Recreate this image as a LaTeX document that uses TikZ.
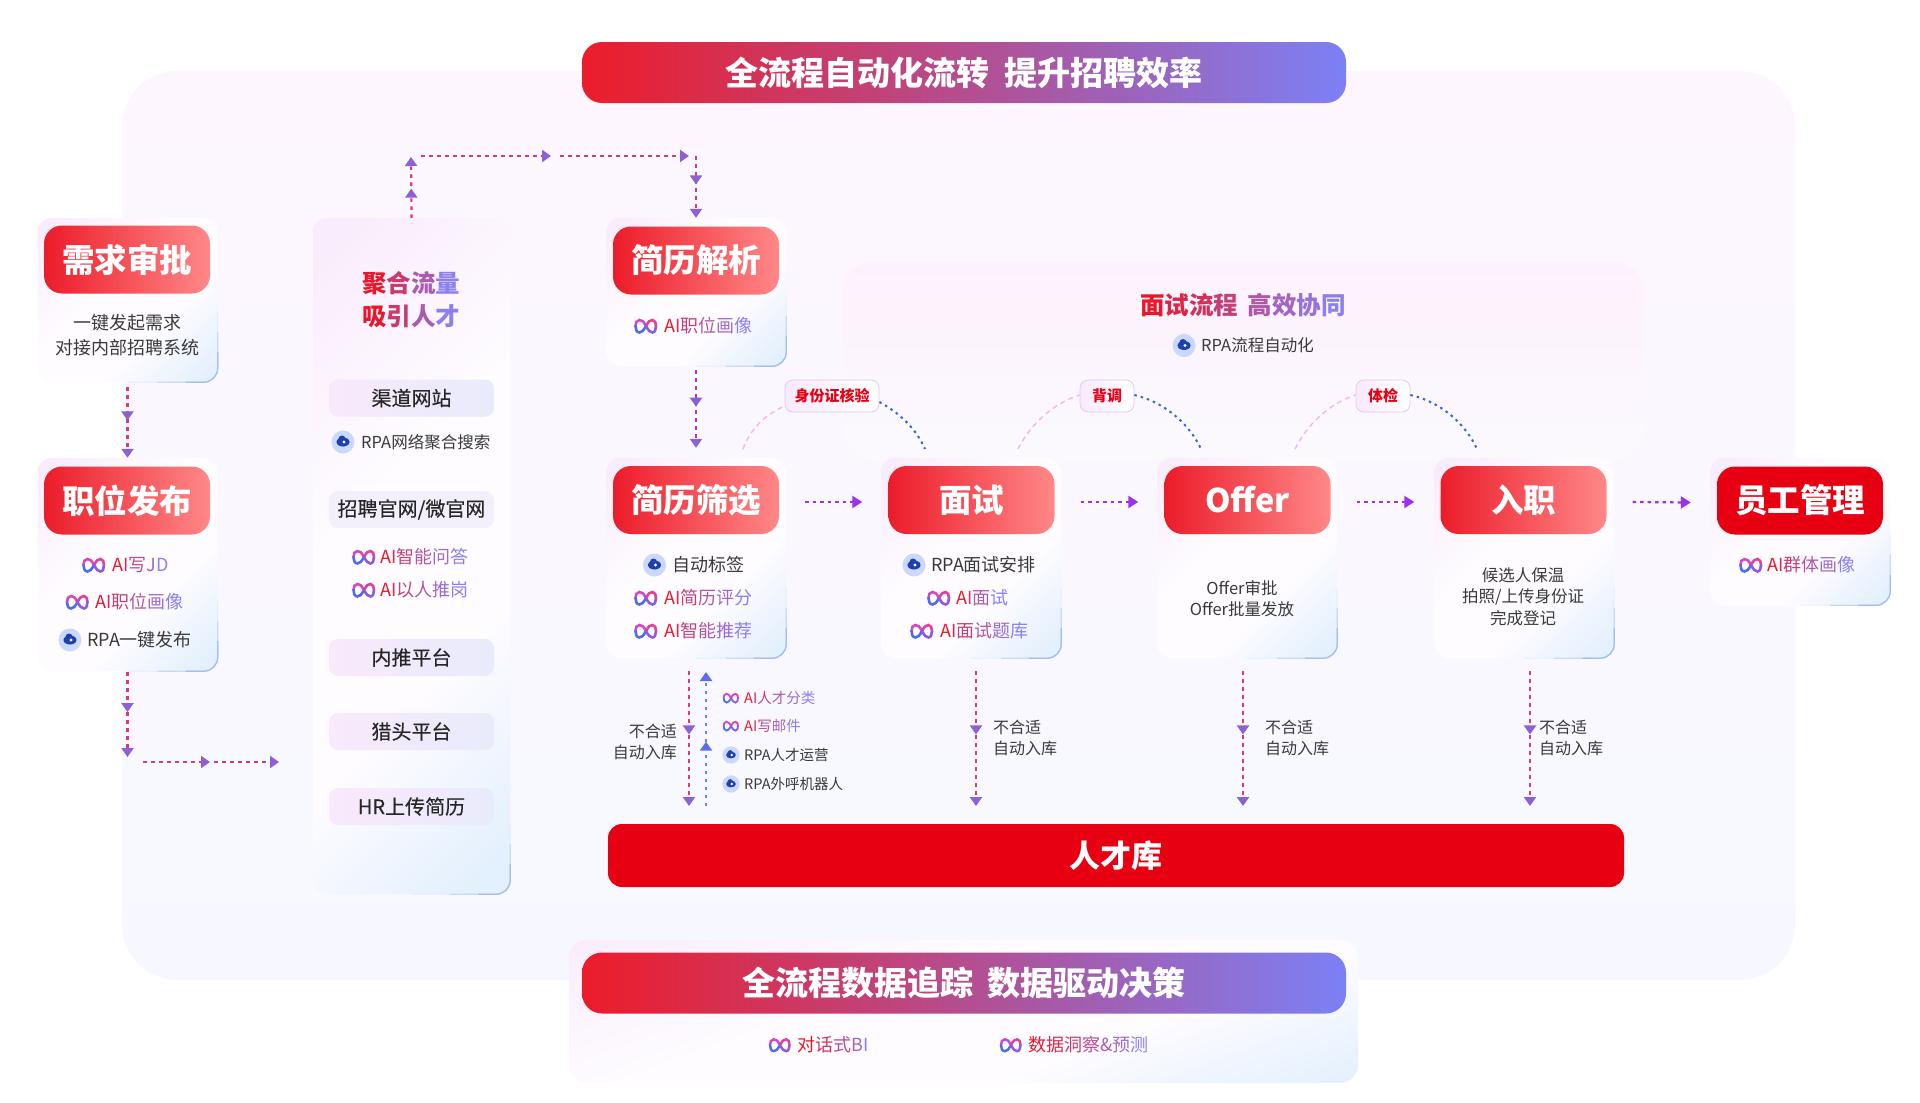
\documentclass[tikz,border=0pt]{standalone}
\usepackage{fontspec}
\setmainfont{Noto Sans CJK SC}
\newfontfamily\medfont[FakeBold=0.25]{Noto Sans CJK SC}
\usetikzlibrary{arrows.meta,decorations.markings}
\definecolor{headred}{HTML}{EC1C2A}
\definecolor{headpink}{HTML}{FF8888}
\definecolor{poolred}{HTML}{E60012}
\definecolor{bannerblue}{HTML}{7C80F5}
\definecolor{bannermid}{HTML}{C8338A}
\definecolor{gradred}{HTML}{E8182C}
\definecolor{gradblue}{HTML}{8C7FF0}
\definecolor{bodygray}{HTML}{3A3A3A}
\definecolor{flowred}{HTML}{D93A76}
\definecolor{tipviolet}{HTML}{8A62D6}
\definecolor{upblue}{HTML}{6F82F0}
\definecolor{tipblue}{HTML}{5A6EF0}
\definecolor{rowviolet}{HTML}{A030F0}
\definecolor{curvepink}{HTML}{F2B6EC}
\definecolor{curveblue}{HTML}{2F6AD6}
\definecolor{cardpink}{HTML}{F9ECFC}
\definecolor{cardblue}{HTML}{E3F0FD}
\definecolor{cardwhite}{HTML}{FEFCFF}
\definecolor{pillpink}{HTML}{F9E9FC}
\definecolor{pillblue}{HTML}{E8EBFB}
\definecolor{pillgray}{HTML}{F3F0FB}
\definecolor{tagedge}{HTML}{DCCBF3}
\definecolor{edgepale}{HTML}{E6EDFA}
\definecolor{edgemid}{HTML}{C9DAF6}
\definecolor{edgeblue}{HTML}{A3BFF0}
\definecolor{aipurple}{HTML}{D24AC0}
\definecolor{aiblue}{HTML}{4F6CF0}
\definecolor{aipink}{HTML}{8F5AE0}
\definecolor{aired}{HTML}{E0429A}
\definecolor{rpapale}{HTML}{C9D8FB}
\definecolor{rpadark}{HTML}{1F3FB0}
\definecolor{outerpink}{HTML}{FDF6FE}
\definecolor{outerblue}{HTML}{F7F8FF}
\definecolor{innerpink}{HTML}{FDF1FD}
\definecolor{innerfade}{HTML}{FBF9FE}
\pgfdeclareverticalshading{cardshade}{100bp}{color(0bp)=(cardblue); color(18bp)=(cardblue); color(38bp)=(cardwhite); color(58bp)=(cardwhite); color(83bp)=(cardpink); color(100bp)=(cardpink)}
\newcommand\gradtext[1]{%
  \foreach \ch [count=\gi] in {#1}{\global\let\gradn\gi}%
  \foreach \ch [count=\gi] in {#1}{%
    \pgfmathtruncatemacro\gp{100-100*(\gi-1)/(\gradn-1)}%
    \textcolor{gradred!\gp!gradblue}{\ch}}}
\tikzset{
  panelbox/.style={rounded corners=#1, inner sep=0pt},
  cardbox/.style={rounded corners=14pt, inner sep=0pt, minimum width=180pt, shading=cardshade, shading angle=45},
  headbox/.style={rounded corners=18pt, inner sep=0pt, minimum width=166pt, minimum height=68pt,
    left color=headred, right color=headpink, text=white, font=\bfseries\fontsize{32.5}{36}\selectfont},
  bannerbox/.style={rounded corners=20pt, inner sep=0pt, minimum width=764pt, minimum height=61pt,
    left color=headred, middle color=bannermid, right color=bannerblue, text=white,
    font=\bfseries\fontsize{33}{36}\selectfont},
  pillbox/.style={rounded corners=9pt, inner sep=0pt, minimum width=165pt, minimum height=37pt,
    left color=pillpink, right color=pillblue, text=black!85, font=\medfont\fontsize{20}{24}\selectfont},
  tagbox/.style={rounded corners=8pt, inner sep=0pt, minimum height=32pt, draw=tagedge, line width=.8pt,
    left color=pillpink, right color=white, text=poolred, font=\bfseries\fontsize{15}{18}\selectfont},
  bodytext/.style={align=center, inner sep=0pt, text=bodygray, font=\fontsize{18}{25}\selectfont},
  offertext/.style={align=center, inner sep=0pt, text=bodygray, font=\fontsize{16.5}{21.5}\selectfont},
  aitext/.style={anchor=west, inner sep=0pt, yshift=-1pt, font=\fontsize{18}{22}\selectfont},
  rpatext/.style={anchor=west, inner sep=0pt, yshift=-1pt, text=bodygray, font=\fontsize{18}{22}\selectfont},
  smalltext/.style={anchor=west, inner sep=0pt, text=bodygray, font=\fontsize{14.5}{18}\selectfont},
  smallai/.style={anchor=west, inner sep=0pt, font=\fontsize{14.5}{18}\selectfont},
  droptext/.style={inner sep=0pt, text=bodygray, font=\fontsize{16}{21}\selectfont},
  titletext/.style={inner sep=0pt, font=\bfseries\fontsize{24.5}{28}\selectfont},
  flowbase/.style={draw=flowred, line width=2.2pt, dash pattern=on 3.5pt off 4.5pt,
    -{Triangle[width=12pt,length=9pt,color=tipviolet]}},
  downline/.style={flowbase,
    decoration={markings, mark=at position #1 with {\arrow{Triangle[width=12pt,length=9pt,color=tipviolet]}}},
    postaction={decorate}},
  upline/.style={draw=upblue, line width=2.2pt, dash pattern=on 3.5pt off 4.5pt,
    -{Triangle[width=12pt,length=9pt,color=tipblue]},
    decoration={markings, mark=at position #1 with {\arrow{Triangle[width=12pt,length=9pt,color=tipblue]}}},
    postaction={decorate}},
  rowline/.style={draw=rowviolet, line width=2.2pt, dash pattern=on 3.5pt off 4pt,
    -{Triangle[width=12pt,length=10pt,color=rowviolet]}},
  curveleft/.style={draw=curvepink, line width=1.4pt, dash pattern=on 5pt off 4pt},
  curveright/.style={draw=curveblue, line width=2pt, dash pattern=on 2.5pt off 4pt},
  edgesoft/.style={draw=edgepale, line width=1pt, rounded corners=14pt},
  edgefirm/.style={draw=edgemid, line width=1.1pt, rounded corners=14pt},
  edgehard/.style={draw=edgeblue, line width=1.3pt, rounded corners=14pt},
  aimark/.pic={
    \begin{scope}[scale=#1, line width=2.6pt*#1, line cap=round]
    \draw[draw=aipurple] (0,0) .. controls (-2.5,-4.5) and (-4,-6) .. (-6.5,-6) .. controls (-9.5,-6) and (-10.5,-3) .. (-10.5,0);
    \draw[draw=aiblue] (-10.5,0) .. controls (-10.5,3) and (-9.5,6.5) .. (-6.5,6.5) .. controls (-4,6.5) and (-2.5,4.5) .. (0,0);
    \draw[draw=aired] (0,0) .. controls (2.5,-4.5) and (4,-6) .. (6.5,-6) .. controls (9,-6) and (10,-3) .. (10,0);
    \draw[draw=aipink] (10,0) .. controls (10,3) and (9,6.5) .. (6.5,6.5) .. controls (4,6.5) and (2.5,4.5) .. (0,0);
    \end{scope}},
  rpamark/.pic={
    \begin{scope}[scale=#1]
    \fill[rpapale] (0,0) circle (11.5);
    \fill[rpadark] (0,0) ellipse (6.5 and 4.5);
    \fill[rpadark] (-1,-3) circle (3.5);
    \fill[white] (1,0) circle (1.7);
    \end{scope}},
}
\begin{document}
\begin{tikzpicture}[x=1pt,y=-1pt]
\useasboundingbox (0,0) rectangle (1920,1103);
\node [panelbox=55pt, minimum width=1673pt, minimum height=909pt, shading angle=45, top color=outerpink, bottom color=outerblue] (outer) at (958.5,525.5) {};
\node [panelbox=30pt, minimum width=801pt, minimum height=198pt, top color=innerpink, bottom color=innerfade] (interview) at (1243.5,361) {};
\node [panelbox=18pt, minimum width=789pt, minimum height=143pt, shading=cardshade, shading angle=20] (datacard) at (963.5,1011.5) {};
\node [bannerbox] (top) at (964,72.5) {全流程自动化流转\hspace{7pt} 提升招聘效率};
\node [bannerbox] (bottom) at (964,983) {全流程数据追踪\hspace{7pt} 数据驱动决策};
\node [cardbox, minimum height=164pt] (cA) at (127.5,300) {};
\node [cardbox, minimum height=213pt] (cB) at (127.5,564.5) {};
\node [cardbox, minimum width=197pt, minimum height=676pt] (cC) at (411.5,556) {};
\node [cardbox, minimum height=148pt] (cD) at (696,292) {};
\node [cardbox, minimum height=200pt] (cE) at (696,558) {};
\node [cardbox, minimum height=200pt] (cF) at (971,558) {};
\node [cardbox, minimum height=200pt] (cG) at (1247,558) {};
\node [cardbox, minimum height=200pt] (cH) at (1524,558) {};
\node [cardbox, minimum height=147pt] (cI) at (1800,531.5) {};
\foreach \c in {cA,cB,cC,cD,cE,cF,cG,cH,cI} {
  \draw [edgesoft] (\c.south) -- (\c.south east) -- ([yshift=70pt]\c.south east);
  \draw [edgefirm] ([xshift=-60pt]\c.south east) -- (\c.south east) -- ([yshift=50pt]\c.south east);
  \draw [edgehard] ([xshift=-32pt]\c.south east) -- (\c.south east) -- ([yshift=30pt]\c.south east);
}
\node [headbox] (hA) at (127,259.5) {需求审批};
\node [headbox] (hB) at (127,500.5) {职位发布};
\node [headbox] (hD) at (696,260.5) {简历解析};
\node [headbox] (hE) at (696,500) {简历筛选};
\node [headbox] (hF) at (971.5,500) {面试};
\node [headbox] (hG) at (1247.5,500) {Offer};
\node [headbox] (hH) at (1523.5,500) {入职};
\node [headbox, left color=poolred, right color=poolred] (hI) at (1800,500.5) {员工管理};
\node [bodytext] (tA) at (127,335) {一键发起需求\\对接内部招聘系统};
\node [aitext] (aB1) at (112,564) {\gradtext{A,I,写,J,D}};
\pic at ([xshift=-18pt]aB1.west) {aimark=1};
\node [aitext] (aB2) at (95.5,601) {\gradtext{A,I,职,位,画,像}};
\pic at ([xshift=-18pt]aB2.west) {aimark=1};
\node [rpatext] (rB1) at (87,639) {RPA一键发布};
\pic at ([xshift=-17pt]rB1.west) {rpamark=1};
\node [titletext] (tC1) at (411,283) {\gradtext{聚,合,流,量}};
\node [titletext] (tC2) at (411,316) {\gradtext{吸,引,人,才}};
\node [pillbox] (pC1) at (411.5,398) {渠道网站};
\node [rpatext, font=\fontsize{16.5}{20}\selectfont] (rC1) at (361,441) {RPA网络聚合搜索};
\pic at ([xshift=-18pt]rC1.west) {rpamark=1};
\node [pillbox, left color=pillgray, right color=pillgray] (pC2) at (411.5,509.5) {招聘官网/微官网};
\node [aitext] (aC1) at (380,556) {\gradtext{A,I,智,能,问,答}};
\pic at ([xshift=-16pt]aC1.west) {aimark=1};
\node [aitext] (aC2) at (380,589) {\gradtext{A,I,以,人,推,岗}};
\pic at ([xshift=-16pt]aC2.west) {aimark=1};
\node [pillbox] (pC3) at (411.5,657.5) {内推平台};
\node [pillbox] (pC4) at (411.5,731.5) {猎头平台};
\node [pillbox] (pC5) at (411.5,806.5) {HR上传简历};
\node [aitext] (aD1) at (664,325) {\gradtext{A,I,职,位,画,像}};
\pic at ([xshift=-18pt]aD1.west) {aimark=1};
\node [rpatext] (rE1) at (672.5,564) {自动标签};
\pic at ([xshift=-18pt]rE1.west) {rpamark=1};
\node [aitext] (aE1) at (664,597) {\gradtext{A,I,简,历,评,分}};
\pic at ([xshift=-18pt]aE1.west) {aimark=1};
\node [aitext] (aE2) at (664,630) {\gradtext{A,I,智,能,推,荐}};
\pic at ([xshift=-18pt]aE2.west) {aimark=1};
\node [rpatext] (rF1) at (931,564) {RPA面试安排};
\pic at ([xshift=-17pt]rF1.west) {rpamark=1};
\node [aitext] (aF1) at (956,597) {\gradtext{A,I,面,试}};
\pic at ([xshift=-17pt]aF1.west) {aimark=1};
\node [aitext] (aF2) at (940,630) {\gradtext{A,I,面,试,题,库}};
\pic at ([xshift=-18pt]aF2.west) {aimark=1};
\node [offertext] (tG) at (1242,598.5) {Offer审批\\Offer批量发放};
\node [offertext] (tH) at (1523,596.5) {候选人保温\\拍照/上传身份证\\完成登记};
\node [aitext] (aI1) at (1767,564) {\gradtext{A,I,群,体,画,像}};
\pic at ([xshift=-16pt]aI1.west) {aimark=1};
\node [titletext] (tInt) at (1243,305) {\gradtext{面,试,流,程,\ \hspace{4pt},高,效,协,同}};
\node [rpatext, font=\fontsize{16.5}{20}\selectfont] (rInt) at (1201,344.5) {RPA流程自动化};
\pic at ([xshift=-17pt]rInt.west) {rpamark=1};
\node [tagbox, minimum width=94pt] (tagA) at (832,396) {身份证核验};
\node [tagbox, minimum width=54pt] (tagB) at (1107,396) {背调};
\node [tagbox, minimum width=54pt] (tagC) at (1383,396) {体检};
\coordinate (lA) at (743,449);
\coordinate (rA) at (925,449);
\coordinate (lB) at (1018,449);
\coordinate (rB) at (1201,449);
\coordinate (lC) at (1295,449);
\coordinate (rC) at (1477,449);
\draw [curveleft] (lA) .. controls (750,430) and (764,415) .. ([yshift=-10pt]tagA.west);
\draw [curveright] ([yshift=-6pt]tagA.east) .. controls (898,412) and (916,428) .. (rA);
\draw [curveleft] (lB) .. controls (1030,425) and (1052,404) .. ([yshift=1pt]tagB.west);
\draw [curveright] ([yshift=1pt]tagB.east) .. controls (1165,402) and (1190,425) .. (rB);
\draw [curveleft] (lC) .. controls (1307,425) and (1328,404) .. ([yshift=1pt]tagC.west);
\draw [curveright] ([yshift=1pt]tagC.east) .. controls (1442,402) and (1466,425) .. (rC);
\foreach \a/\b in {hE/hF,hF/hG,hG/hH,hH/hI}
  \draw [rowline] ([shift={(26pt,-2pt)}]\a.east) -- ([shift={(-26pt,-2pt)}]\b.west);
\coordinate (b1) at (127.5,757);
\coordinate (b2) at (143,762);
\coordinate (b3) at (210,762);
\coordinate (b4) at (214,762);
\coordinate (b5) at (279,762);
\coordinate (u1) at (411,157);
\coordinate (u2) at (421,156);
\coordinate (u3) at (551,156);
\coordinate (u4) at (560,156);
\coordinate (u5) at (689,156);
\coordinate (u6) at (696,156);
\coordinate (d1) at (689,671);
\coordinate (d2) at (689,806);
\coordinate (d3) at (706,806);
\coordinate (d4) at (706,672);
\coordinate (d5) at (976,671);
\coordinate (d6) at (976,806);
\coordinate (d7) at (1243,671);
\coordinate (d8) at (1243,806);
\coordinate (d9) at (1530,671);
\coordinate (d10) at (1530,806);
\draw [downline=.47] ([yshift=-5pt]cA.south) -- (cB.north);
\draw [downline=.47] ([yshift=-1pt]cB.south) -- (b1);
\draw [flowbase] (b2) -- (b3);
\draw [flowbase] (b4) -- (b5);
\draw [downline=.48] (cC.north) -- (u1);
\draw [flowbase] (u2) -- (u3);
\draw [flowbase] (u4) -- (u5);
\draw [downline=.46] (u6) -- (cD.north);
\draw [downline=.47, draw=rowviolet!60!flowred] ([yshift=-4pt]cD.south) -- ([yshift=10pt]cE.north);
\draw [downline=.47] (d1) -- (d2);
\draw [upline=.48] (d3) -- (d4);
\draw [downline=.47] (d5) -- (d6);
\draw [downline=.47] (d7) -- (d8);
\draw [downline=.47] (d9) -- (d10);
\node [droptext, align=right, anchor=east] (dE) at (677,741.5) {不合适\\自动入库};
\node [droptext, align=left, anchor=west] (dF) at (993,737.5) {不合适\\自动入库};
\node [droptext, align=left, anchor=west] (dG) at (1265,737.5) {不合适\\自动入库};
\node [droptext, align=left, anchor=west] (dH) at (1539,737.5) {不合适\\自动入库};
\node [smallai] (aP1) at (744,698) {\gradtext{A,I,人,才,分,类}};
\pic at ([xshift=-13pt]aP1.west) {aimark=.7};
\node [smallai] (aP2) at (744,726) {\gradtext{A,I,写,邮,件}};
\pic at ([xshift=-13pt]aP2.west) {aimark=.7};
\node [smalltext] (rP1) at (744,755) {RPA人才运营};
\pic at ([xshift=-13pt]rP1.west) {rpamark=.75};
\node [smalltext] (rP2) at (744,784) {RPA外呼机器人};
\pic at ([xshift=-13pt]rP2.west) {rpamark=.75};
\node [rounded corners=14pt, inner sep=0pt, minimum width=1016pt, minimum height=63pt, fill=poolred, text=white, font=\bfseries\fontsize{31}{34}\selectfont] (pool) at (1116,855.5) {人才库};
\node [aitext] (aL1) at (797,1044) {\gradtext{对,话,式,B,I}};
\pic at ([xshift=-17pt]aL1.west) {aimark=.95};
\node [aitext] (aL2) at (1028,1044) {\gradtext{数,据,洞,察,\&,预,测}};
\pic at ([xshift=-17pt]aL2.west) {aimark=.95};
\end{tikzpicture}
\end{document}
